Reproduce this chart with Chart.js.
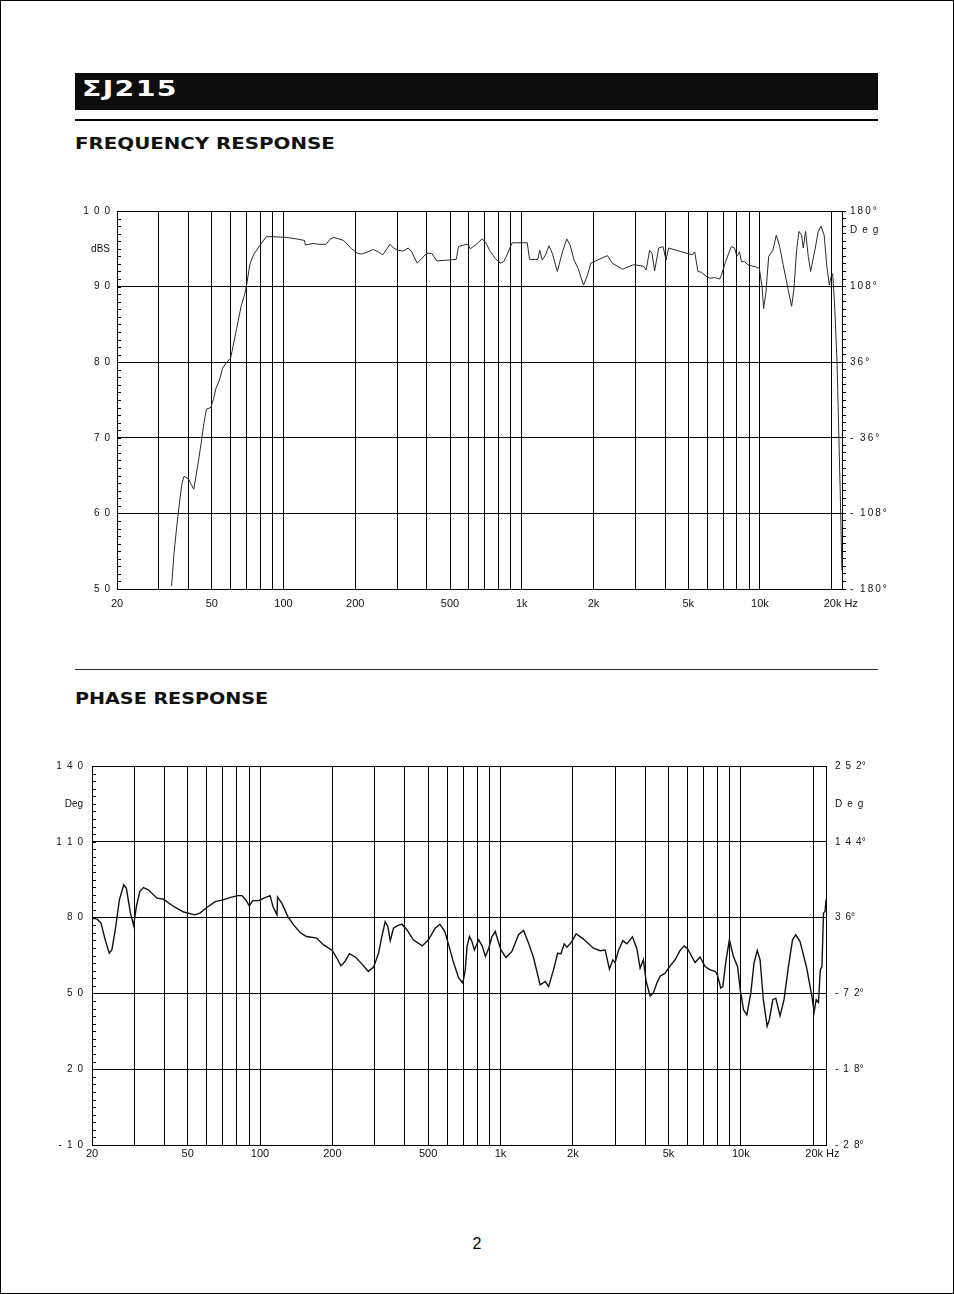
<!DOCTYPE html>
<html>
<head>
<meta charset="utf-8">
<script src="https://cdn.jsdelivr.net/npm/chart.js@4.4.1/dist/chart.umd.min.js"></script>
<style>
  html, body { margin: 0; padding: 0; background: #fff; }
  #page { position: relative; width: 954px; height: 1294px; overflow: hidden; font-family: "Liberation Sans", Arial, sans-serif; }
  .frame { position: absolute; left: 0; top: 0; width: 954px; height: 1294px; box-sizing: border-box; border: 1px solid #000; }
  .bar { position: absolute; left: 75px; top: 73px; width: 803px; height: 37px; background: #0d0d0d; }
  .model { position: absolute; left: 7px; top: 4px; line-height: 24px; color: #fff; font-weight: bold; font-size: 21px; font-family: "DejaVu Sans", sans-serif; letter-spacing: 1px; transform: scaleX(1.35); transform-origin: left center; white-space: nowrap; }
  .rule { position: absolute; left: 75px; top: 119px; width: 803px; height: 2px; background: #000; }
  .sep { position: absolute; left: 75px; top: 669px; width: 803px; height: 1px; background: #333; }
  .head { position: absolute; left: 75px; line-height: 20px; font-weight: bold; font-size: 16.5px; font-family: "DejaVu Sans", sans-serif; color: #111; transform: scaleX(1.2); transform-origin: left center; white-space: nowrap; }
  canvas { position: absolute; }
  .pg { position: absolute; left: 0; width: 954px; top: 1235px; line-height: 18px; text-align: center; font-size: 16px; }
</style>
</head>
<body>
<div id="page">
  <div class="frame"></div>
  <div class="bar"><span class="model">ΣJ215</span></div>
  <div class="rule"></div>
  <div class="head" style="top:134px">FREQUENCY RESPONSE</div>
  <canvas id="frChart" width="850" height="425" style="left:50px;top:195px"></canvas>
  <div class="sep"></div>
  <div class="head" style="top:689px;transform:scaleX(1.16)">PHASE RESPONSE</div>
  <canvas id="phChart" width="870" height="425" style="left:30px;top:750px"></canvas>
  <div class="pg">2</div>
</div>
<script>
// frequency response, Hz / dB
const frFreq = [
  33.9, 34.7, 35.5, 36.7, 37.5, 38.2, 39.8, 42.0, 43.8, 45.3,
  46.3, 47.5, 49.5, 50.9, 52.0, 53.8, 55.5, 57.4, 59.9, 61.3,
  63.6, 66.6, 68.6, 70.0, 72.2, 73.7, 75.5, 79.0, 84.6, 90.3,
  103, 114, 122.5, 123.5, 133, 140, 151, 157, 163, 179,
  193, 205, 212, 222, 238, 250, 261, 280, 290, 303,
  318, 334, 345, 364, 380, 399, 419, 440, 485, 531,
  543, 570, 593, 608, 639, 682, 704, 739, 775, 814,
  840, 868, 897, 912, 1055, 1078, 1168, 1191, 1219, 1259,
  1301, 1344, 1411, 1482, 1546, 1596, 1659, 1725, 1817, 1888,
  1949, 2079, 2288, 2400, 2643, 2948, 3243, 3329, 3442, 3522,
  3613, 3757, 3919, 4035, 4134, 5203, 5321, 5490, 5673, 5987,
  6185, 6447, 6774, 6884, 7175, 7580, 7824, 8000, 8208, 8368,
  8616, 8890, 9328, 9632, 9939, 10200, 10360, 10600, 10880, 11330,
  11710, 12100, 12510, 13130, 13580, 13880, 14250, 14570, 14950, 15200,
  15540, 15950, 16320, 17000, 17570, 18050, 18600, 19100, 19550, 19890,
  20200, 20600, 21060, 21400, 21740, 22080
];
const frLevel = [
  50.4, 54.7, 57.8, 61.8, 64.0, 64.9, 64.6, 63.2, 66.6, 69.7,
  71.9, 73.8, 74.0, 75.2, 76.5, 77.6, 79.2, 79.9, 80.5, 82.0,
  84.5, 87.6, 88.9, 90.2, 92.9, 93.7, 94.4, 95.3, 96.6, 96.6,
  96.5, 96.3, 96.1, 95.5, 95.7, 95.6, 95.6, 96.3, 96.5, 96.1,
  95.0, 94.4, 94.3, 94.5, 94.9, 94.6, 94.2, 95.6, 95.1, 94.8,
  94.7, 95.1, 94.6, 93.1, 93.7, 94.4, 94.4, 93.4, 93.5, 93.6,
  95.3, 95.5, 95.6, 95.0, 95.5, 96.3, 95.9, 94.6, 93.7, 93.1,
  93.3, 94.2, 95.3, 95.8, 95.8, 93.6, 93.6, 94.8, 93.5, 94.2,
  95.4, 94.4, 92.0, 94.6, 96.3, 95.5, 93.5, 92.4, 90.2, 91.5,
  93.1, 93.5, 94.1, 93.1, 92.3, 92.9, 92.7, 92.2, 94.8, 94.4,
  92.1, 95.1, 95.3, 93.5, 95.1, 94.2, 94.6, 92.0, 91.9, 91.3,
  91.1, 91.2, 91.0, 91.5, 93.3, 95.3, 95.1, 94.0, 94.6, 93.3,
  93.3, 92.9, 92.7, 92.6, 92.4, 90.0, 87.1, 89.3, 94.0, 94.8,
  96.8, 95.3, 92.9, 89.6, 87.4, 89.6, 94.8, 97.3, 96.8, 95.1,
  97.3, 94.0, 92.0, 94.8, 97.3, 98.0, 96.8, 92.6, 90.2, 91.3,
  91.7, 87.3, 80.1, 71.3, 62.4, 52.5
];

// phase response, Hz / left-axis units
const phFreq = [
  20, 21.0, 21.8, 22.7, 23.6, 24.2, 25.0, 26.0, 27.1, 27.8,
  28.9, 29.8, 30.6, 31.6, 32.7, 34.3, 37.3, 39.6, 43.7, 48.1,
  53.6, 56.2, 60.1, 65.1, 70.1, 76.2, 81.0, 84.1, 87.3, 90.2,
  93.3, 98.8, 103.8, 110.1, 113.2, 117.6, 118.3, 123.2, 130.5, 137.9,
  146.8, 156, 172, 183.9, 199.7, 208.6, 217, 225.4, 235.6, 250.5,
  267.2, 282, 296.7, 311, 321, 331.6, 340, 348, 359, 371,
  389, 408, 434, 473, 502, 535, 560, 587, 609, 639,
  670, 697, 714, 726, 743, 761, 779, 812, 839, 866,
  894, 922, 952, 974, 1005, 1054, 1116, 1189, 1248, 1309,
  1374, 1462, 1537, 1586, 1662, 1729, 1785, 1842, 1891, 1981,
  2064, 2214, 2436, 2598, 2725, 2840, 2933, 2998, 3095, 3229,
  3354, 3539, 3692, 3810, 3932, 4035, 4193, 4328, 4472, 4615,
  4840, 5078, 5327, 5588, 5806, 6016, 6450, 6766, 7098, 7446,
  7812, 7986, 8252, 8410, 8678, 8958, 9309, 9694, 9939, 10260,
  10590, 11000, 11340, 11700, 12020, 12400, 12860, 13140, 13580, 13970,
  14556, 15120, 15770, 16400, 16916, 17628, 18794, 19740, 20180, 20570,
  21030, 21400, 21740, 22070, 22400, 22600
];
const phValue = [
  79.8, 79.4, 77.8, 71.2, 65.9, 67.2, 75.2, 87.0, 93.0, 91.6,
  81.8, 76.9, 84.4, 90.3, 91.9, 91.0, 87.7, 87.3, 84.4, 82.2,
  81.1, 81.8, 84.0, 86.3, 87.0, 88.1, 88.7, 88.7, 87.0, 84.6,
  86.7, 86.7, 87.7, 88.7, 84.4, 81.1, 88.1, 85.7, 80.4, 77.1,
  74.1, 72.5, 71.9, 69.2, 67.0, 64.0, 60.9, 62.6, 65.7, 64.2,
  61.3, 58.7, 60.4, 65.9, 72.5, 78.4, 76.5, 70.9, 75.8, 76.7,
  77.4, 75.2, 71.2, 68.8, 71.2, 75.8, 77.4, 74.5, 69.2, 62.0,
  56.1, 54.1, 59.3, 68.5, 72.5, 70.5, 67.2, 71.2, 68.8, 64.6,
  67.9, 72.5, 74.5, 71.2, 67.2, 64.2, 66.6, 73.2, 74.9, 69.9,
  64.0, 53.4, 54.7, 52.7, 59.3, 65.9, 65.7, 69.6, 68.3, 70.5,
  73.6, 71.5, 67.9, 66.9, 67.2, 59.6, 63.3, 62.2, 67.0, 70.9,
  69.6, 72.4, 67.8, 60.0, 63.3, 54.8, 49.0, 50.3, 54.1, 56.8,
  58.0, 60.9, 63.3, 67.0, 68.8, 67.5, 62.2, 64.4, 60.6, 59.3,
  58.7, 57.4, 52.1, 52.7, 63.3, 71.2, 64.6, 60.6, 51.4, 43.5,
  41.5, 50.1, 62.0, 67.0, 63.3, 47.5, 37.0, 39.6, 47.5, 48.1,
  41.1, 47.5, 60.6, 71.2, 73.2, 70.5, 60.0, 48.8, 42.8, 47.5,
  46.4, 59.3, 60.6, 81.8, 82.4, 87.0
];

// ticks and labels
const gridFreqs = [20, 30, 40, 50, 60, 70, 80, 90, 100, 200, 300, 400, 500, 600, 700, 800, 900,
  1000, 2000, 3000, 4000, 5000, 6000, 7000, 8000, 9000, 10000, 20000];
const freqLabels = { 20: '20', 50: '50', 100: '100', 200: '200', 500: '500', 1000: '1k', 2000: '2k', 5000: '5k', 10000: '10k', 20000: '      20k Hz' };

const frLeftTicks = [50, 60, 70, 80, 90, 100];
const frLeftLabels = ['5 0', '6 0', '7 0', '8 0', '9 0', '1 0 0'];
const frRightTicks = [-180, -108, -36, 36, 108, 180];
const frRightLabels = ['- 180°', '- 108°', '- 36°', '36°', '108°', '180°'];

const phLeftTicks = [-10, 20, 50, 80, 110, 140];
const phLeftLabels = ['- 1 0', '2 0', '5 0', '8 0', '1 1 0', '1 4 0'];
const phRightTicks = [-288, -180, -72, 36, 144, 252];
const phRightLabels = ['- 2 8°', '- 1 8°', '- 7 2°', '3 6°', '1 4 4°', '2 5 2°'];

const BLACK = '#000';
const NONE = 'rgba(0,0,0,0)';
const FONT = '"Liberation Sans", Arial, sans-serif';

const spaced = s => s.replace(/ /g, '\u2002');
const loose = s => s.split('').join('\u2009');
const r3 = v => Math.round(v * 1000) / 1000;

function steps(min, max, step, extra) {
    const out = [];
    for (let v = min; v <= max + 1e-9; v += step) out.push(r3(v));
    if (extra !== undefined) out.push(extra);
    return out.sort((a, b) => a - b).map(v => ({ value: v }));
}

function labelFrom(ticks, labels, extraValue, extraLabel) {
    return v => {
        const i = ticks.indexOf(r3(v));
        if (i >= 0) return labels[i];
        if (r3(v) === extraValue) return extraLabel;
        return '';
    };
}

// short tick marks inside the plot on the left axis
const innerTicks = {
    id: 'innerTicks',
    afterDatasetsDraw(chart) {
        const y = chart.scales.y;
        const ctx = chart.ctx;
        const left = chart.chartArea.left;
        ctx.save();
        ctx.strokeStyle = BLACK;
        ctx.lineWidth = 1;
        ctx.beginPath();
        y.ticks.forEach(t => {
            const p = Math.round(y.getPixelForValue(t.value)) + 0.5;
            ctx.moveTo(left, p);
            ctx.lineTo(left + 4, p);
        });
        ctx.stroke();
        ctx.restore();
    }
};

function xScale(max, pad, height) {
    return {
        type: 'logarithmic',
        min: 20,
        max: max,
        afterBuildTicks: s => { s.ticks = gridFreqs.map(v => ({ value: v })); },
        afterFit: s => { s.height = height; },
        ticks: {
            autoSkip: false, maxRotation: 0, padding: pad, color: '#111',
            font: { family: FONT, size: 11 },
            callback: v => freqLabels[v] || ''
        },
        grid: { color: BLACK, lineWidth: 1, drawTicks: false },
        border: { color: BLACK, width: 1 }
    };
}

// --- frequency response ---
new Chart(document.getElementById('frChart'), {
    type: 'scatter',
    data: {
        datasets: [{
            data: frFreq.map((f, i) => ({ x: f, y: frLevel[i] })),
            showLine: true,
            borderColor: '#2a2a2a',
            borderWidth: 1,
            pointRadius: 0,
            tension: 0
        }]
    },
    options: {
        responsive: false,
        animation: false,
        events: [],
        layout: { padding: { top: 16, right: 0, bottom: 0, left: 0 } },
        plugins: { legend: { display: false }, tooltip: { enabled: false } },
        scales: {
            x: xScale(22100, 8, 31),
            y: {
                min: 50, max: 100,
                afterBuildTicks: s => { s.ticks = steps(50, 100, 1); },
                afterFit: s => { s.width = 67; },
                ticks: {
                    autoSkip: false, padding: 7, color: '#111',
                    font: { family: FONT, size: 10 },
                    callback: labelFrom(frLeftTicks, frLeftLabels.map(spaced), 95, 'dBS')
                },
                grid: {
                    drawTicks: false, lineWidth: 1,
                    color: c => frLeftTicks.includes(r3(c.tick.value)) ? BLACK : NONE
                },
                border: { color: BLACK, width: 1 }
            },
            y2: {
                position: 'right',
                min: -180, max: 180,
                afterBuildTicks: s => { s.ticks = steps(-180, 180, 7.2, 162); },
                afterFit: s => { s.width = 58; },
                ticks: {
                    autoSkip: false, padding: 4, color: '#111',
                    font: { family: FONT, size: 10 },
                    callback: labelFrom(frRightTicks, frRightLabels.map(loose), 162, spaced('D e g'))
                },
                grid: {
                    drawOnChartArea: false, tickLength: 4, lineWidth: 1,
                    tickColor: c => r3(c.tick.value) === 162 ? NONE : BLACK
                },
                border: { color: BLACK, width: 1 }
            }
        }
    },
    plugins: [innerTicks]
});

// --- phase response ---
new Chart(document.getElementById('phChart'), {
    type: 'scatter',
    data: {
        datasets: [{
            data: phFreq.map((f, i) => ({ x: f, y: phValue[i] })),
            showLine: true,
            borderColor: '#111',
            borderWidth: 1.4,
            pointRadius: 0,
            tension: 0,
            clip: false
        }]
    },
    options: {
        responsive: false,
        animation: false,
        events: [],
        layout: { padding: { top: 16, right: 0, bottom: 0, left: 0 } },
        plugins: { legend: { display: false }, tooltip: { enabled: false } },
        scales: {
            x: xScale(22600, 2, 30),
            y: {
                min: -10, max: 140,
                afterBuildTicks: s => { s.ticks = steps(-10, 140, 3); },
                afterFit: s => { s.width = 62; },
                ticks: {
                    autoSkip: false, padding: 9, color: '#111',
                    font: { family: FONT, size: 10 },
                    callback: labelFrom(phLeftTicks, phLeftLabels.map(spaced), 125, 'Deg')
                },
                grid: {
                    drawTicks: false, lineWidth: 1,
                    color: c => phLeftTicks.includes(r3(c.tick.value)) ? BLACK : NONE
                },
                border: { color: BLACK, width: 1 }
            },
            y2: {
                position: 'right',
                min: -288, max: 252,
                afterBuildTicks: s => { s.ticks = phRightTicks.concat([198]).sort((a, b) => a - b).map(v => ({ value: v })); },
                afterFit: s => { s.width = 74; },
                ticks: {
                    autoSkip: false, padding: 9, color: '#111',
                    font: { family: FONT, size: 10 },
                    callback: labelFrom(phRightTicks, phRightLabels.map(spaced), 198, spaced('D e g'))
                },
                grid: { drawOnChartArea: false, drawTicks: false },
                border: { color: BLACK, width: 1 }
            }
        }
    },
    plugins: [innerTicks]
});
</script>
</body>
</html>
